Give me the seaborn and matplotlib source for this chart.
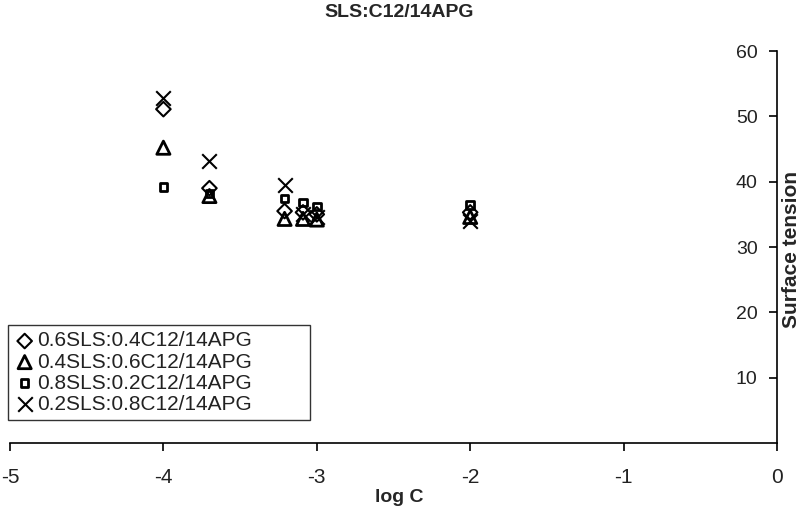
import matplotlib
matplotlib.use('Agg')
import matplotlib.pyplot as plt
import seaborn as sns
import pandas as pd

# log C values shared by all four mixtures
log_c = [-4.0, -3.7, -3.21, -3.09, -3.0, -2.0]

# surface tension
st_06_04 = [51.1, 39.0, 35.5, 35.3, 35.0, 35.3]
st_04_06 = [45.2, 37.8, 34.3, 34.3, 34.2, 34.6]
st_08_02 = [39.2, 38.2, 37.4, 36.8, 36.2, 36.4]
st_02_08 = [52.8, 43.2, 39.5, 35.0, 34.6, 34.0]

labels = ['0.6SLS:0.4C12/14APG', '0.4SLS:0.6C12/14APG',
          '0.8SLS:0.2C12/14APG', '0.2SLS:0.8C12/14APG']
series = [st_06_04, st_04_06, st_08_02, st_02_08]

rows = []
for lab, vals in zip(labels, series):
    for x, y in zip(log_c, vals):
        rows.append({'log C': x, 'Surface tension': y, 'mix': lab})
df = pd.DataFrame(rows)

sns.set_theme(style='white')
plt.rcParams['font.family'] = ['Liberation Sans', 'DejaVu Sans']
plt.rcParams['axes.unicode_minus'] = False

fig = plt.figure(figsize=(7.99, 5.11), dpi=100)
ax = fig.add_axes([10 / 799, 1 - 443 / 511, 767 / 799, 392 / 511])

styles = {
    labels[0]: dict(marker='D', s=55, facecolor='none', edgecolor='black', linewidth=1.5),
    labels[1]: dict(marker='^', s=90, facecolor='none', edgecolor='black', linewidth=2.0),
    labels[2]: dict(marker='s', s=30, facecolor='none', edgecolor='black', linewidth=2.0),
    labels[3]: dict(marker='x', s=110, color='black', linewidth=1.5),
}
for lab in labels:
    sub = df[df['mix'] == lab]
    sns.scatterplot(data=sub, x='log C', y='Surface tension', ax=ax,
                    label=lab, clip_on=False, zorder=3, **styles[lab])

ax.set_xlim(-5, 0)
ax.set_ylim(0, 60)
ax.set_xticks([-5, -4, -3, -2, -1, 0])
ax.set_xticklabels(['-5', '-4', '-3', '-2', '-1', '0'])
ax.set_yticks([10, 20, 30, 40, 50, 60])

ax.spines['top'].set_visible(False)
ax.spines['right'].set_visible(False)
ax.spines['left'].set_position(('data', 0))
for sp in ['left', 'bottom']:
    ax.spines[sp].set_color('black')
    ax.spines[sp].set_linewidth(1.2)

ax.tick_params(axis='x', direction='out', length=6, width=1.2, colors='black',
               labelsize=15, pad=12, bottom=True)
ax.tick_params(axis='y', direction='out', length=6, width=1.2, colors='black',
               labelsize=14, pad=8, left=True)
for t in ax.get_xticklabels() + ax.get_yticklabels():
    t.set_color('#222222')

ax.set_xlabel('')
ax.set_ylabel('')
fig.text(0.5, 0.027, 'log C', ha='center', va='center', fontsize=14, fontweight='bold')
fig.text(0.99, 0.511, 'Surface tension', ha='center', va='center', rotation=90,
         fontsize=15, fontweight='bold')
fig.text(0.5, 0.976, 'SLS:C12/14APG', ha='center', va='center', fontsize=14,
         fontweight='bold')

leg = ax.legend(loc='lower left', bbox_to_anchor=(8 / 799, 1 - 420 / 511, 302 / 799, 92 / 511),
                bbox_transform=fig.transFigure, mode='expand', fontsize=15,
                frameon=True, fancybox=False, borderpad=0.3, handletextpad=0.1,
                labelspacing=0.1, handlelength=1.0, borderaxespad=0)
leg.get_frame().set_edgecolor('black')
leg.get_frame().set_linewidth(1.0)
leg.get_frame().set_facecolor('white')
for txt in leg.get_texts():
    txt.set_color('#222222')

fig.savefig('out.png', dpi=100)
